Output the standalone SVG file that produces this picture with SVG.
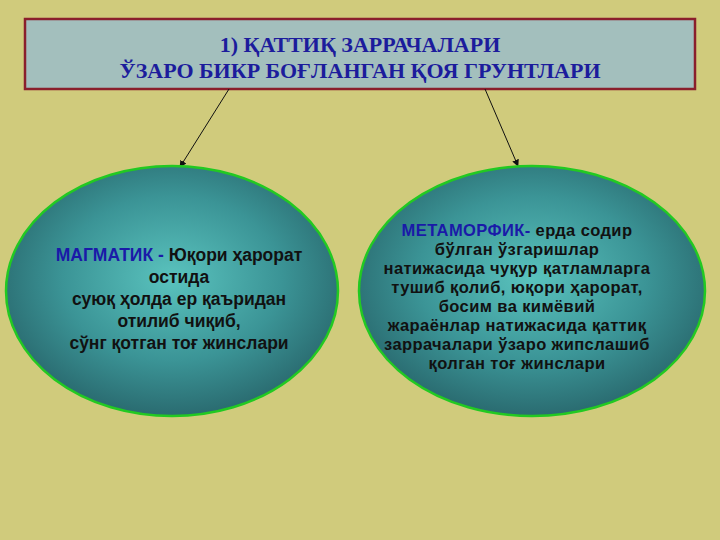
<svg xmlns="http://www.w3.org/2000/svg" width="720" height="540" viewBox="0 0 720 540">
<style>
.title{font-family:"Liberation Serif","Times New Roman",serif;font-weight:bold;font-size:22px;fill:#1c1c9c;text-anchor:middle}
.body{font-family:"Liberation Sans",Arial,sans-serif;font-weight:bold;font-size:17.5px;fill:#111;text-anchor:middle}
.dense{font-size:16.5px;letter-spacing:0.4px}
.kw{fill:#1a1aa8}
.conn{stroke:#111;stroke-width:1;fill:none;marker-end:url(#ah)}
.oval{fill:url(#tg);stroke:#22c922;stroke-width:2.5}
</style>
<defs>
<radialGradient id="tg" cx="0.5" cy="0.45" r="0.55">
<stop offset="0" stop-color="#5ac3be"/>
<stop offset="0.6" stop-color="#3b9496"/>
<stop offset="1" stop-color="#2a6b70"/>
</radialGradient>
<marker id="ah" viewBox="0 0 10 10" refX="9" refY="5" markerWidth="7" markerHeight="7" orient="auto" markerUnits="userSpaceOnUse">
<path d="M0,0 L10,5 L0,10 z" fill="#111"/>
</marker>
</defs>
<rect width="720" height="540" fill="#d0cb7c"/>
<g id="title">
<rect x="25" y="19" width="670" height="70" fill="#a3bfbd" stroke="#8a1f2c" stroke-width="2.5"/>
<text class="title" x="360" y="52">1) ҚАТТИҚ ЗАРРАЧАЛАРИ</text>
<text class="title" x="360" y="78">ЎЗАРО БИКР БОҒЛАНГАН ҚОЯ ГРУНТЛАРИ</text>
</g>
<g id="connectors">
<line class="conn" x1="229" y1="89" x2="180" y2="167"/>
<line class="conn" x1="485" y1="89" x2="518" y2="166"/>
</g>
<g id="magmatic">
<ellipse class="oval" cx="172" cy="291" rx="166" ry="125"/>
<text class="body" x="179" y="261"><tspan class="kw">МАГМАТИК - </tspan>Юқори ҳарорат</text>
<text class="body" x="179" y="283">остида</text>
<text class="body" x="179" y="305">суюқ ҳолда ер қаъридан</text>
<text class="body" x="179" y="327">отилиб чиқиб,</text>
<text class="body" x="179" y="349">сўнг қотган тоғ жинслари</text>
</g>
<g id="metamorphic">
<ellipse class="oval" cx="532" cy="291" rx="173" ry="125"/>
<text class="body dense" x="517" y="236"><tspan class="kw">МЕТАМОРФИК- </tspan>ерда содир</text>
<text class="body dense" x="517" y="255">бўлган ўзгаришлар</text>
<text class="body dense" x="517" y="274">натижасида чуқур қатламларга</text>
<text class="body dense" x="517" y="293">тушиб қолиб, юқори ҳарорат,</text>
<text class="body dense" x="517" y="312">босим ва кимёвий</text>
<text class="body dense" x="517" y="331">жараёнлар натижасида қаттиқ</text>
<text class="body dense" x="517" y="350">заррачалари ўзаро жипслашиб</text>
<text class="body dense" x="517" y="369">қолган тоғ жинслари</text>
</g>
</svg>
